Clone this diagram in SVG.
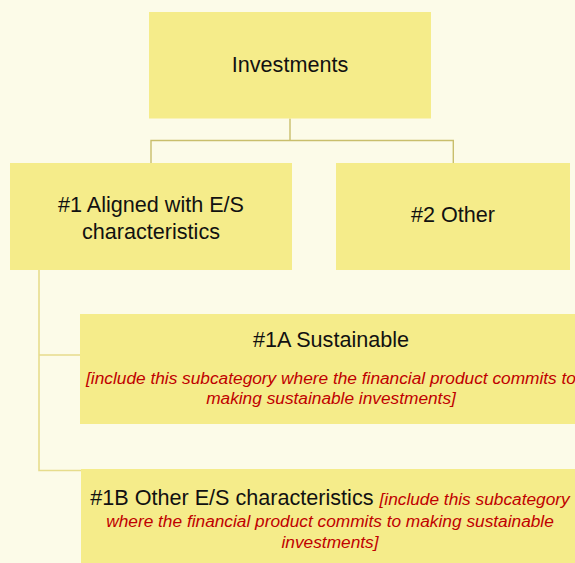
<svg xmlns="http://www.w3.org/2000/svg" width="575" height="563" viewBox="0 0 575 563">
<style>
.box{fill:#F5EC8A}
.lbl{font-family:"Liberation Sans",Arial,sans-serif;font-size:21.6px;fill:#111111;text-anchor:middle}
.note{font-family:"Liberation Sans",Arial,sans-serif;font-size:17.3px;font-style:italic;fill:#C00000;text-anchor:middle}
.c1{fill:none;stroke:#C9BE6C;stroke-width:1.4}
.c2{fill:none;stroke:#E6DC8C;stroke-width:1.6}
</style>
<rect x="0" y="0" width="575" height="563" fill="#FCFBE8"/>
<g id="connectors">
<path class="c1" d="M290 118.5 V140.5 M151 163 V140.5 H453.3 V163"/>
<path class="c2" d="M39 270 V470.5 H81 M39 355 H80"/>
</g>
<g id="investments">
<rect class="box" x="149" y="12" width="282" height="106.5"/>
<text class="lbl" x="290" y="72">Investments</text>
</g>
<g id="aligned">
<rect class="box" x="10" y="163" width="282" height="107"/>
<text class="lbl" x="151" y="212">#1 Aligned with E/S</text>
<text class="lbl" x="151" y="238.5">characteristics</text>
</g>
<g id="other">
<rect class="box" x="336" y="163" width="234" height="107"/>
<text class="lbl" x="453" y="222">#2 Other</text>
</g>
<g id="sustainable">
<rect class="box" x="80" y="314" width="502" height="110"/>
<text class="lbl" x="331" y="347">#1A Sustainable</text>
<text class="note" x="331" y="384">[include this subcategory where the financial product commits to</text>
<text class="note" x="331" y="404">making sustainable investments]</text>
</g>
<g id="other-es">
<rect class="box" x="81" y="469" width="500" height="94"/>
<text class="lbl" x="330" y="505">#1B Other E/S characteristics <tspan class="note" style="font-size:17.3px;font-style:italic;fill:#C00000">[include this subcategory</tspan></text>
<text class="note" x="330" y="527">where the financial product commits to making sustainable</text>
<text class="note" x="330" y="548">investments]</text>
</g>
</svg>
